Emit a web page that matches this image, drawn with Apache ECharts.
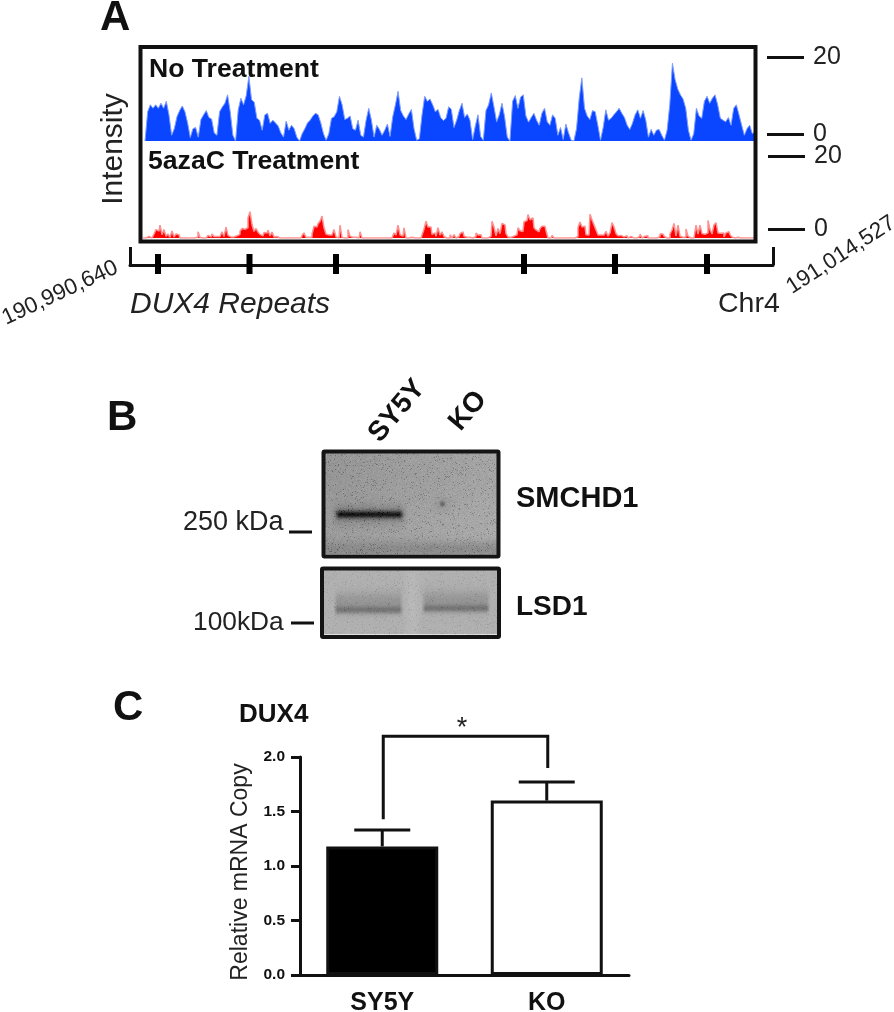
<!DOCTYPE html>
<html><head><meta charset="utf-8">
<script src="https://cdn.jsdelivr.net/npm/echarts@6/dist/echarts.min.js"></script>
<style>html,body{margin:0;background:#fff}#c{width:894px;height:1012px}</style></head>
<body><div id="c"></div>
<script>
// Panel A: genomic window
const genomeStart = 190990640;
const genomeEnd = 191014527;
const dux4Repeats = [190991680,190995079,190998293,191001711,191005277,191008658,191012076];
// Track signal, as height above each track's floor, in intensity units, regularly sampled
const noTreatment = [0,7.6,9.4,8.5,9.4,8.5,9.8,8.5,10.3,6.8,1.5,3.2,6.3,7.9,9.1,7.6,4.7,.9,3.2,3.5,1,5.6,6.8,7.9,6.1,5.7,2.1,1.5,7.6,8.8,9.8,12,7.6,1.5,0,8.1,11.1,9.4,11.8,16.8,10.7,10.1,5.9,5.4,2.8,6.8,7.2,4.6,5.4,4.7,3.9,2.1,1,5.2,2.8,4.1,3.2,1,0,1.9,3.2,4.7,5.4,6.5,7.2,6.8,4.7,1.9,.2,1.9,5.9,6.3,7.6,11.6,9.4,5.6,5.9,6.5,3.2,2.8,5.4,1.5,1,5.4,8.5,5.4,1,4.1,3,1.5,2.8,4.4,1.2,6.3,9.4,12.9,7.9,6.5,5.6,7,8.2,3.2,.2,.6,6.8,11.6,10.3,10.9,9.4,7.6,8.2,6.1,5.3,5.9,8.9,8.2,3.5,5.4,7.9,9.8,6.1,7,5.4,.4,3.9,6.8,1.2,.2,7.9,9.4,12.5,8.9,5,6.8,9.8,6.3,1,0,10.3,11.8,8.5,11.4,12,6.5,4.9,6.1,7.2,5.4,4.1,7.2,8.5,5,4.1,6.8,5.9,1.5,3.5,.4,4.4,2.1,.2,0,3.2,11.1,16.4,8.5,6.5,5.6,7.9,7.6,4.1,.2,3.5,8.1,5.4,5.9,6.8,7.6,8.5,7.2,6.1,4.1,3,4.6,6.8,8.1,5.9,7.9,5.4,1,3,1.5,2.8,3,1.5,.2,2.8,9.4,20.2,16,13.5,12,10.9,8.5,2.8,.2,1.9,8.5,6.5,5.9,10.3,11.6,9.8,11.1,12,9.4,5.9,5.4,5,6.1,4.1,8.5,9.4,6.8,4.1,1.5,3.2,4.1,1.9,2.4];
const azaCTreatment = [0,0,.4,.4,0,0,1.1,2.3,1.9,3.5,.9,2.3,.5,1.1,.2,1.9,.3,1.1,.9,0,0,0,0,0,0,0,0,.3,1.7,.2,0,0,0,.7,.3,1.1,.4,.4,.4,.4,1.7,.4,3,.7,.3,.3,.4,.6,1,1.8,2.6,2.4,2.8,5.5,7.2,3.7,1.8,2.6,1.6,1,.6,1.5,1.4,2.1,.6,1.6,.3,.4,0,0,0,0,0,0,0,0,0,0,0,0,.7,1.4,.2,.2,.2,1,3.2,3,3.9,4.6,6,2.8,1.1,.8,.8,.8,2.3,.3,0,
3.5,.2,0,0,2.3,.5,.2,.2,0,0,1.7,0,0,0,0,0,0,0,0,0,0,0,0,0,0,0,0,1.4,.8,3.5,.9,.5,2.8,0,0,.2,0,0,0,0,0,.8,2.4,4.6,3,3,1,1.4,.5,2.8,.8,1.7,.4,0,0,.9,0,.9,0,.4,1.2,1.7,.5,.2,.2,0,0,.4,1.4,.8,.9,0,0,0,0,.5,4.6,3,.6,2.6,1.2,4,3.6,1.2,.3,.2,.5,.8,.9,2.8,2,1.8,4.4,4.8,6.4,5,5.5,2.8,2.2,1.7,2.6,3.2,3.2,2,0,
0,.7,0,0,0,0,0,0,.4,0,0,0,0,.4,2.8,4.4,3,3.2,.9,.8,6.5,5,3.6,2.2,.8,.8,.8,.8,1.8,.5,1.4,4.2,3,1.2,.6,.7,.3,.5,.6,0,.4,0,0,0,.5,1.1,0,.5,.6,0,0,0,0,0,.4,1.1,1.1,.5,0,0,1.1,2.2,4,.6,3.5,.5,.2,.3,2.5,.5,0,0,0,3.5,1.1,3.5,1.2,1,1.4,4.8,2.3,1.1,3.6,4.2,1.4,1.3,1.4,.3,1.4,1.7,.9,.3,0,.2,0,0,0,0,0,0,0,0,0];
const trackTicks = [0, 20];
const blueFloor = -1.82;
const redFloor = -2.47;
// Panel C
const groups = ['SY5Y', 'KO'];
const mrnaCopy = [1.18, 1.6];
const mrnaErrorTop = [1.33, 1.77];
const sigBracket = [1.43, 2.19, 1.9];

const BOLD = {fontFamily:'Liberation Sans', fontWeight:'bold', fill:'#111'};
const REG = {fontFamily:'Liberation Sans', fill:'#222'};
const fmtComma = n => String(n).replace(/\B(?=(\d{3})+$)/g, ',');

const pxBp = (genomeEnd - genomeStart) / 643;
const bpAt = px => genomeStart + (px - 130) * pxBp;
const sample = (arr, a, b, floor) => arr.map((v, i) => [bpAt(a + (b - a) * i / (arr.length - 1)), v + floor]);

const txt = (text, x, y, size, base, extra) => Object.assign({
  type:'text', x, y, silent:true, z:50,
  style:Object.assign({text, fontSize:size, align:'left', verticalAlign:'middle'}, base)
}, extra || {});
const rot = (text, x, y, size, base, angle) => {
  const t = txt(text, x, y, size, base, {rotation: angle * Math.PI / 180});
  t.style.align = 'center';
  return t;
};

// Western-blot membrane photographs, painted as soft texture
function hash(x, y) {
  let h = (x * 374761393 + y * 668265263) | 0;
  h = Math.imul(h ^ (h >>> 13), 1274126177);
  return ((h ^ (h >>> 16)) >>> 0) / 4294967296;
}
const gauss = (d, s) => Math.exp(-(d * d) / (2 * s * s));
const smoothBox = (x, a, b, e) => Math.min(1, Math.max(0, (x - a) / e)) * Math.min(1, Math.max(0, (b - x) / e));
function paintBlot(x0, y0, w, h, shade, grain) {
  const raw = document.createElement('canvas'); raw.width = w; raw.height = h;
  const ctx = raw.getContext('2d'); const img = ctx.createImageData(w, h);
  for (let j = 0; j < h; j++) for (let i = 0; i < w; i++) {
    const n = hash(i + x0, j + y0), n2 = hash(j + 7 * y0, i + 3);
    let g = shade(i + x0, j + y0) + (n - .5) * grain;
    if (n2 > .955) g -= grain * 2.2;
    const k = (i + j * w) * 4;
    img.data[k] = img.data[k + 1] = img.data[k + 2] = g; img.data[k + 3] = 255;
  }
  ctx.putImageData(img, 0, 0);
  const out = document.createElement('canvas'); out.width = w; out.height = h;
  const oc = out.getContext('2d'); oc.filter = 'blur(0.6px)'; oc.drawImage(raw, 0, 0);
  return {type:'image', z:30, silent:true, style:{image:out, x:x0, y:y0, width:w, height:h}};
}
const shadeTop = (x, y) => {
  let g = 155 + (x - 322) * .09 - 6 * gauss(y - 470, 30);
  g -= 32 * gauss(y - 549, 6) * (0.55 + (x - 322) * .0025);
  g -= 105 * gauss(y - 514, 2.6) * smoothBox(x, 334, 404, 5);
  g -= 30 * gauss(y - 514, 7) * smoothBox(x, 330, 408, 8);
  g -= 55 * gauss(x - 442, 1.8) * gauss(y - 503.5, 1.8);
  g -= 10 * gauss(x - 442, 6) * gauss(y - 503.5, 6);
  if (y >= 553.5) g = 222;
  return g;
};
const shadeBottom = (x, y) => {
  let g = 176;
  [[333, 403, 609.5], [421, 490, 608]].forEach(b => {
    const m = smoothBox(x, b[0], b[1], 4);
    g -= 45 * gauss(y - b[2], 2.8) * m;
    g -= 26 * gauss(y - (b[2] - 8), 7) * m;
  });
  if (x > 403 && x < 421) g += 7 * gauss(x - 412, 5);
  if (y >= 634) g = 225;
  return g;
};

const blotFrame = (x,y,w,h) => ({type:'rect', z:40, silent:true, shape:{x,y,width:w,height:h,r:1},
  style:{fill:'none', stroke:'#141414', lineWidth:4}});
const asterisk = txt('*',462,729,27,REG);
asterisk.style.align = 'center';

const graphic = [
  txt('A',100,18,42,BOLD), txt('B',107,418,42,BOLD), txt('C',113,708,42,BOLD),
  {type:'rect', z:40, silent:true, shape:{x:140.5,y:47,width:615,height:194.5}, style:{fill:'none',stroke:'#111',lineWidth:4}},
  txt('No Treatment',149,70,26.6,BOLD), txt('5azaC Treatment',148,162,26.6,BOLD),
  rot('Intensity',114,149,30,REG,90),
  rot(fmtComma(genomeStart),60,293,22.5,REG,25),
  rot(fmtComma(genomeEnd),841,255,22.5,REG,33),
  txt('DUX4 Repeats',130,305,30,Object.assign({fontStyle:'italic'},REG)),
  txt('Chr4',718,304,28.5,REG),
  // Panel B
  rot('SY5Y',397,411,28,BOLD,50), rot('KO',468,411,28,BOLD,50),
  txt('SMCHD1',516,499,29,BOLD), txt('LSD1',516,607,28,BOLD),
  txt('250 kDa',183,523,27,REG), txt('100kDa',193,623,26.3,REG),
  {type:'line',z:40,silent:true,shape:{x1:289,y1:532,x2:312,y2:532},style:{stroke:'#111',lineWidth:3}},
  {type:'line',z:40,silent:true,shape:{x1:291,y1:623,x2:314,y2:623},style:{stroke:'#111',lineWidth:3}},
  paintBlot(323, 451, 176, 106, shadeTop, 16),
  paintBlot(322, 568, 177, 70, shadeBottom, 8),
  blotFrame(323.5,451.5,175,105), blotFrame(322,568.5,177,68.5),
  // Panel C
  txt('DUX4',239,715,26,BOLD),
  asterisk
];

const trackY = (idx, min, x) => ({
  gridIndex:idx, type:'value', position:'right', offset:x, min, max:20,
  splitLine:{show:false}, axisLine:{show:false},
  axisTick:{show:true, length:37, customValues:trackTicks, lineStyle:{color:'#111',width:3}},
  axisLabel:{show:true, customValues:trackTicks, margin:46, fontFamily:'Liberation Sans', fontSize:25, color:'#222'}
});
const hiddenX = idx => ({gridIndex:idx, type:'value', min:genomeStart, max:genomeEnd, show:false});

const option = {
  animation:false, backgroundColor:'#fff', graphic,
  grid:[
    {left:130,width:643,top:57,height:84,outerBoundsMode:'none'},
    {left:130,width:643,top:156,height:82,outerBoundsMode:'none'},
    {left:130,width:643,top:247,height:18,outerBoundsMode:'none'},
    {left:300,width:329,top:757,height:218,outerBoundsMode:'none'}
  ],
  xAxis:[
    hiddenX(0), hiddenX(1),
    {gridIndex:2,type:'value',min:genomeStart,max:genomeEnd,splitLine:{show:false},
     axisLine:{show:true,onZero:false,lineStyle:{color:'#111',width:3}},
     axisTick:{show:true,inside:true,length:18,customValues:[genomeStart,genomeEnd],lineStyle:{color:'#111',width:3}},
     axisLabel:{show:false}},
    {gridIndex:3,type:'category',data:groups,
     axisLine:{lineStyle:{color:'#111',width:3}},
     axisTick:{alignWithLabel:true,length:8,lineStyle:{color:'#111',width:3}},
     axisLabel:{margin:16,fontFamily:'Liberation Sans',fontWeight:'bold',fontSize:25,color:'#111'}}
  ],
  yAxis:[
    trackY(0,blueFloor,-6),
    trackY(1,redFloor,-5),
    {gridIndex:2,type:'value',min:0,max:1,show:false},
    {gridIndex:3,type:'value',min:0,max:2,interval:.5,splitLine:{show:false},
     name:'Relative mRNA Copy',nameLocation:'middle',nameGap:48,
     nameTextStyle:{fontFamily:'Liberation Sans',fontSize:23,color:'#222',padding:[0,12,0,0]},
     axisLine:{show:true,lineStyle:{color:'#111',width:3}},
     axisTick:{show:true,length:9,lineStyle:{color:'#111',width:3}},
     axisLabel:{margin:15,fontFamily:'Liberation Sans',fontWeight:'bold',fontSize:15.5,color:'#111',formatter:v=>v.toFixed(1)}}
  ],
  series:[
    {type:'line',xAxisIndex:0,yAxisIndex:0,data:sample(noTreatment,145,755,blueFloor),showSymbol:false,
     lineStyle:{color:'#7f9dff',width:1},areaStyle:{color:'#0a46ff',origin:'start',opacity:1},silent:true},
    {type:'line',xAxisIndex:1,yAxisIndex:1,step:'middle',data:sample(azaCTreatment,143,755,redFloor),showSymbol:false,
     lineStyle:{color:'#ff9090',width:1.5},areaStyle:{color:'#ff0000',origin:'start',opacity:1},silent:true},
    {type:'scatter',xAxisIndex:2,yAxisIndex:2,clip:false,symbol:'rect',symbolSize:[6,20],symbolOffset:[0,-1],
     data:dux4Repeats.map(b=>[b,0]),itemStyle:{color:'#000',opacity:1},silent:true,z:5},
    {type:'bar',xAxisIndex:3,yAxisIndex:3,barWidth:112,silent:true,
     data:mrnaCopy.map((v,i)=>({value:v,itemStyle:{color:i===0?'#000':'#fff',borderColor:'#111',borderWidth:3}}))},
    {type:'custom',xAxisIndex:3,yAxisIndex:3,silent:true,z:1,
     data:mrnaCopy.map((v,i)=>[i,v,mrnaErrorTop[i]]),encode:{x:0,y:[1,2]},
     renderItem:(p,api)=>{
       const a=api.coord([api.value(0),api.value(1)]), b=api.coord([api.value(0),api.value(2)]);
       const s={stroke:'#111',lineWidth:3,fill:null};
       return {type:'group',children:[
         {type:'line',shape:{x1:a[0],y1:a[1],x2:b[0],y2:b[1]},style:s},
         {type:'line',shape:{x1:b[0]-28,y1:b[1],x2:b[0]+28,y2:b[1]},style:s}]};
     }},
    {type:'custom',xAxisIndex:3,yAxisIndex:3,silent:true,clip:false,
     data:[[0,sigBracket[0],sigBracket[1],sigBracket[2]]],encode:{x:0,y:[1,2,3]},
     renderItem:(p,api)=>{
       const pts=[api.coord([0,api.value(1)]),api.coord([0,api.value(2)]),api.coord([1,api.value(2)]),api.coord([1,api.value(3)])];
       return {type:'polyline',shape:{points:pts.map(q=>[q[0]+1,q[1]])},style:{stroke:'#111',lineWidth:3,fill:null}};
     }}
  ]
};
const chart = echarts.init(document.getElementById('c'), null, {renderer:'canvas'});
chart.setOption(option);
</script></body></html>
